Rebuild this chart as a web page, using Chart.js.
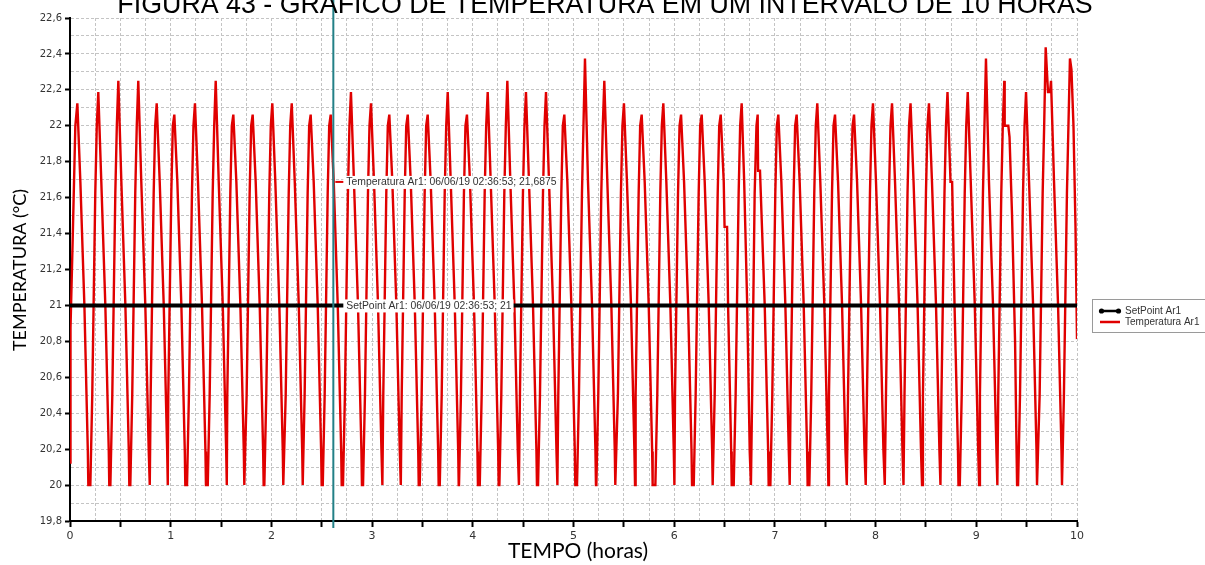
<!DOCTYPE html>
<html>
<head>
<meta charset="utf-8">
<script src="https://cdn.jsdelivr.net/npm/chart.js@4.4.1/dist/chart.umd.min.js"></script>
<style>
html,body{margin:0;padding:0;background:#fff;}
canvas{display:block;}
</style>
</head>
<body>
<canvas id="c" width="1205" height="565"></canvas>
<script>
// ---------- DATA ----------
const chartTitle = "FIGURA 43 - GRÁFICO DE TEMPERATURA EM UM INTERVALO DE 10 HORAS";
const xTitle = "TEMPO (horas)";
const yTitle = "TEMPERATURA (°C)";
const seriesNames = ["SetPoint Ar1", "Temperatura Ar1"];

const setpointHours = [0, 10];
const setpointValues = [21, 21];

const cursorHour = 2.615;
const cursorTemp = 21.6875;
const cursorSetpoint = 21;
const cursorLabelTemp = "Temperatura Ar1: 06/06/19 02:36:53; 21,6875";
const cursorLabelSetpoint = "SetPoint Ar1: 06/06/19 02:36:53; 21";

const xTickLabels = ["0","1","2","3","4","5","6","7","8","9","10"];

const tempHours = [
  0, 0.005, 0.027, 0.053,
  0.073, 0.103, 0.143, 0.177, 0.182, 0.202, 0.221, 0.251, 0.266,
  0.281, 0.311, 0.351, 0.385, 0.390, 0.401, 0.420, 0.450, 0.465,
  0.480, 0.510, 0.550, 0.584, 0.589, 0.599, 0.618, 0.648, 0.663,
  0.678, 0.708, 0.748, 0.782, 0.792, 0.801, 0.831, 0.846,
  0.861, 0.891, 0.931, 0.965, 0.971, 0.976, 1.006, 1.021,
  1.036, 1.066, 1.106, 1.140, 1.145, 1.162, 1.181, 1.211, 1.226,
  1.241, 1.271, 1.311, 1.345, 1.350, 1.368, 1.387, 1.417, 1.432,
  1.447, 1.477, 1.517, 1.551, 1.557, 1.562, 1.592, 1.607,
  1.622, 1.652, 1.692, 1.726, 1.731, 1.735, 1.754, 1.784, 1.799,
  1.814, 1.844, 1.884, 1.918, 1.923, 1.930, 1.949, 1.979, 1.994,
  2.009, 2.039, 2.079, 2.113, 2.118, 2.123, 2.142, 2.172, 2.187,
  2.202, 2.232, 2.272, 2.306, 2.311, 2.330, 2.360, 2.375,
  2.390, 2.420, 2.460, 2.494, 2.499, 2.510, 2.529, 2.559, 2.574,
  2.589, 2.619, 2.659, 2.693, 2.698, 2.711, 2.730, 2.760, 2.775,
  2.790, 2.820, 2.860, 2.894, 2.899, 2.910, 2.929, 2.959, 2.974,
  2.989, 3.019, 3.059, 3.093, 3.102, 3.111, 3.141, 3.156,
  3.171, 3.201, 3.241, 3.275, 3.285, 3.294, 3.324, 3.339,
  3.354, 3.384, 3.424, 3.458, 3.463, 3.473, 3.492, 3.522, 3.537,
  3.552, 3.582, 3.622, 3.656, 3.661, 3.672, 3.691, 3.721, 3.736,
  3.751, 3.781, 3.821, 3.855, 3.860, 3.863, 3.882, 3.912, 3.927,
  3.942, 3.972, 4.012, 4.046, 4.051, 4.069, 4.088, 4.118, 4.133,
  4.148, 4.178, 4.218, 4.252, 4.257, 4.264, 4.283, 4.313, 4.328,
  4.343, 4.373, 4.413, 4.447, 4.458, 4.468, 4.498, 4.513,
  4.528, 4.558, 4.598, 4.632, 4.637, 4.648, 4.667, 4.697, 4.712,
  4.727, 4.757, 4.797, 4.831, 4.840, 4.849, 4.879, 4.894,
  4.909, 4.939, 4.979, 5.013, 5.018, 5.035, 5.054, 5.084, 5.099,
  5.114, 5.144, 5.184, 5.218, 5.223, 5.227, 5.246, 5.276, 5.291,
  5.306, 5.336, 5.376, 5.410, 5.415, 5.422, 5.441, 5.471, 5.486,
  5.501, 5.531, 5.571, 5.605, 5.611, 5.617, 5.647, 5.662,
  5.677, 5.707, 5.747, 5.781, 5.786, 5.813, 5.832, 5.862, 5.877,
  5.892, 5.922, 5.962, 5.996, 6.002, 6.008, 6.038, 6.053,
  6.068, 6.098, 6.138, 6.172, 6.177, 6.194, 6.213, 6.243, 6.258,
  6.273, 6.303, 6.343, 6.377, 6.382, 6.402, 6.432, 6.447,
  6.462, 6.492, 6.500, 6.525, 6.535, 6.566, 6.571, 6.591, 6.610, 6.640, 6.655,
  6.670, 6.695, 6.725, 6.750, 6.762, 6.774, 6.799, 6.817,
  6.829, 6.833, 6.852, 6.899, 6.933, 6.938, 6.955, 6.974, 7.004, 7.019,
  7.034, 7.064, 7.104, 7.138, 7.147, 7.156, 7.186, 7.201,
  7.216, 7.246, 7.286, 7.320, 7.325, 7.342, 7.361, 7.391, 7.406,
  7.421, 7.451, 7.491, 7.525, 7.531, 7.537, 7.567, 7.582,
  7.597, 7.627, 7.667, 7.701, 7.714, 7.726, 7.756, 7.771,
  7.786, 7.816, 7.856, 7.890, 7.902, 7.914, 7.944, 7.959,
  7.974, 8.004, 8.044, 8.078, 8.091, 8.103, 8.133, 8.148,
  8.163, 8.193, 8.233, 8.267, 8.277, 8.287, 8.317, 8.332,
  8.347, 8.377, 8.417, 8.451, 8.461, 8.470, 8.500, 8.515,
  8.530, 8.560, 8.600, 8.634, 8.644, 8.654, 8.684, 8.699,
  8.714, 8.744, 8.760, 8.784, 8.818, 8.823, 8.836, 8.855, 8.885, 8.900,
  8.915, 8.945, 8.985, 9.019, 9.028, 9.036, 9.066, 9.081,
  9.096, 9.126, 9.166, 9.200, 9.209, 9.218, 9.248, 9.263,
  9.278, 9.282, 9.318, 9.330, 9.355, 9.385, 9.400, 9.405, 9.415, 9.434, 9.464, 9.479,
  9.494, 9.524, 9.564, 9.598, 9.603, 9.610, 9.629, 9.659, 9.674,
  9.689, 9.712, 9.732, 9.742, 9.772, 9.812, 9.846, 9.851, 9.870, 9.900, 9.915,
  9.930, 9.945, 9.965, 9.985, 10.0
];

const tempValues = [
  20.125, 20.875, 21.375, 22.0,
  22.125, 21.6875, 21.0, 20.1875, 20.0, 20.0, 20.5, 21.625, 22.0,
  22.1875, 21.6875, 21.0, 20.1875, 20.0, 20.0, 20.5, 21.625, 22.0,
  22.25, 21.6875, 21.0, 20.1875, 20.0, 20.0, 20.5, 21.625, 22.0,
  22.25, 21.6875, 21.0, 20.1875, 20.0, 20.5, 21.625, 22.0,
  22.125, 21.6875, 21.0, 20.1875, 20.0, 20.5, 21.625, 22.0,
  22.0625, 21.6875, 21.0, 20.1875, 20.0, 20.0, 20.5, 21.625, 22.0,
  22.125, 21.6875, 21.0, 20.1875, 20.0, 20.0, 20.5, 21.625, 22.0,
  22.25, 21.6875, 21.0, 20.1875, 20.0, 20.5, 21.625, 22.0,
  22.0625, 21.6875, 21.0, 20.1875, 20.0, 20.0, 20.5, 21.625, 22.0,
  22.0625, 21.6875, 21.0, 20.1875, 20.0, 20.0, 20.5, 21.625, 22.0,
  22.125, 21.6875, 21.0, 20.1875, 20.0, 20.0, 20.5, 21.625, 22.0,
  22.125, 21.6875, 21.0, 20.1875, 20.0, 20.5, 21.625, 22.0,
  22.0625, 21.6875, 21.0, 20.1875, 20.0, 20.0, 20.5, 21.625, 22.0,
  22.0625, 21.6875, 21.0, 20.1875, 20.0, 20.0, 20.5, 21.625, 22.0,
  22.1875, 21.6875, 21.0, 20.1875, 20.0, 20.0, 20.5, 21.625, 22.0,
  22.125, 21.6875, 21.0, 20.1875, 20.0, 20.5, 21.625, 22.0,
  22.0625, 21.6875, 21.0, 20.1875, 20.0, 20.5, 21.625, 22.0,
  22.0625, 21.6875, 21.0, 20.1875, 20.0, 20.0, 20.5, 21.625, 22.0,
  22.0625, 21.6875, 21.0, 20.1875, 20.0, 20.0, 20.5, 21.625, 22.0,
  22.1875, 21.6875, 21.0, 20.1875, 20.0, 20.0, 20.5, 21.625, 22.0,
  22.0625, 21.6875, 21.0, 20.1875, 20.0, 20.0, 20.5, 21.625, 22.0,
  22.1875, 21.6875, 21.0, 20.1875, 20.0, 20.0, 20.5, 21.625, 22.0,
  22.25, 21.6875, 21.0, 20.1875, 20.0, 20.5, 21.625, 22.0,
  22.1875, 21.6875, 21.0, 20.1875, 20.0, 20.0, 20.5, 21.625, 22.0,
  22.1875, 21.6875, 21.0, 20.1875, 20.0, 20.5, 21.625, 22.0,
  22.0625, 21.6875, 21.0, 20.1875, 20.0, 20.0, 20.5, 21.625, 22.0,
  22.375, 21.6875, 21.0, 20.1875, 20.0, 20.0, 20.5, 21.625, 22.0,
  22.25, 21.6875, 21.0, 20.1875, 20.0, 20.0, 20.5, 21.625, 22.0,
  22.125, 21.6875, 21.0, 20.1875, 20.0, 20.5, 21.625, 22.0,
  22.0625, 21.6875, 21.0, 20.1875, 20.0, 20.0, 20.5, 21.625, 22.0,
  22.125, 21.6875, 21.0, 20.1875, 20.0, 20.5, 21.625, 22.0,
  22.0625, 21.6875, 21.0, 20.1875, 20.0, 20.0, 20.5, 21.625, 22.0,
  22.0625, 21.6875, 21.0, 20.1875, 20.0, 20.5, 21.625, 22.0,
  22.0625, 21.6875, 21.4375, 21.4375, 21.0, 20.1875, 20.0, 20.0, 20.5, 21.625, 22.0,
  22.125, 21.6875, 21.0, 20.1875, 20.0, 20.5, 21.625, 22.0,
  22.0625, 21.75, 21.75, 21.0, 20.1875, 20.0, 20.0, 20.5, 21.625, 22.0,
  22.0625, 21.6875, 21.0, 20.1875, 20.0, 20.5, 21.625, 22.0,
  22.0625, 21.6875, 21.0, 20.1875, 20.0, 20.0, 20.5, 21.625, 22.0,
  22.125, 21.6875, 21.0, 20.1875, 20.0, 20.5, 21.625, 22.0,
  22.0625, 21.6875, 21.0, 20.1875, 20.0, 20.5, 21.625, 22.0,
  22.0625, 21.6875, 21.0, 20.1875, 20.0, 20.5, 21.625, 22.0,
  22.125, 21.6875, 21.0, 20.1875, 20.0, 20.5, 21.625, 22.0,
  22.125, 21.6875, 21.0, 20.1875, 20.0, 20.5, 21.625, 22.0,
  22.125, 21.6875, 21.0, 20.1875, 20.0, 20.5, 21.625, 22.0,
  22.125, 21.6875, 21.0, 20.1875, 20.0, 20.5, 21.625, 22.0,
  22.1875, 21.6875, 21.6875, 21.0, 20.1875, 20.0, 20.0, 20.5, 21.625, 22.0,
  22.1875, 21.6875, 21.0, 20.1875, 20.0, 20.5, 21.625, 22.0,
  22.375, 21.6875, 21.0, 20.1875, 20.0, 20.5, 21.625, 22.0,
  22.25, 22.0, 22.0, 21.9375, 21.5, 20.8, 20.1875, 20.0, 20.0, 20.5, 21.625, 22.0,
  22.1875, 21.6875, 21.0, 20.1875, 20.0, 20.0, 20.5, 21.625, 22.0,
  22.4375, 22.1875, 22.1875, 22.25, 21.6875, 21.0, 20.1875, 20.0, 20.5, 21.625, 22.0,
  22.375, 22.3125, 22.0, 21.4375, 20.8125
];

if (tempHours.length !== tempValues.length) {
  throw new Error("length mismatch: hours " + tempHours.length + " values " + tempValues.length);
}

// ---------- CHART ----------
const fmtY = v => (Math.round(v * 10) / 10).toString().replace('.', ',');
const isMulti = (v, step, base) => Math.abs((v - base) / step - Math.round((v - base) / step)) < 1e-6;

const overlay = {
  id: 'overlay',
  beforeDraw(chart) {
    const ctx = chart.ctx;
    ctx.save();
    ctx.fillStyle = '#fff';
    ctx.fillRect(0, 0, chart.width, chart.height);
    ctx.restore();
  },
  afterDraw(chart) {
    const ctx = chart.ctx;
    const xs = chart.scales.x, ys = chart.scales.y;
    const area = chart.chartArea;
    ctx.save();

    // cursor vertical line
    const cx = xs.getPixelForValue(cursorHour);
    ctx.strokeStyle = 'rgb(35,128,135)';
    ctx.lineWidth = 2;
    ctx.beginPath();
    ctx.moveTo(cx, 0);
    ctx.lineTo(cx, area.bottom + 7);
    ctx.stroke();

    // cursor labels
    ctx.font = '10.4px "Liberation Sans", Arial, sans-serif';
    ctx.textBaseline = 'middle';
    ctx.textAlign = 'left';
    const yT = ys.getPixelForValue(cursorTemp);
    const yS = ys.getPixelForValue(cursorSetpoint);
    let w = ctx.measureText(cursorLabelTemp).width;
    ctx.fillStyle = '#fff';
    ctx.fillRect(cx + 10, yT - 6, w + 5, 13);
    ctx.strokeStyle = '#e00000';
    ctx.lineWidth = 2;
    ctx.beginPath();
    ctx.moveTo(cx + 2, yT);
    ctx.lineTo(cx + 10, yT);
    ctx.stroke();
    ctx.fillStyle = '#333';
    ctx.fillText(cursorLabelTemp, cx + 13, yT + 0.5);
    w = ctx.measureText(cursorLabelSetpoint).width;
    ctx.fillStyle = '#fff';
    ctx.fillRect(cx + 10, yS - 6, w + 5, 13);
    ctx.fillStyle = '#333';
    ctx.fillText(cursorLabelSetpoint, cx + 13, yS + 0.5);

    // legend
    ctx.strokeStyle = '#9a9a9a';
    ctx.lineWidth = 1;
    ctx.strokeRect(1092.5, 299.5, 125, 33);
    ctx.strokeStyle = '#000';
    ctx.lineWidth = 2.5;
    ctx.beginPath(); ctx.moveTo(1100, 311); ctx.lineTo(1120, 311); ctx.stroke();
    ctx.fillStyle = '#000';
    ctx.beginPath(); ctx.arc(1101.5, 311, 2.6, 0, Math.PI * 2); ctx.fill();
    ctx.beginPath(); ctx.arc(1118.5, 311, 2.6, 0, Math.PI * 2); ctx.fill();
    ctx.strokeStyle = '#e00000';
    ctx.beginPath(); ctx.moveTo(1100, 322); ctx.lineTo(1120, 322); ctx.stroke();
    ctx.fillStyle = '#333';
    ctx.font = '10px "Liberation Sans", Arial, sans-serif';
    ctx.fillText(seriesNames[0], 1125, 311.5);
    ctx.fillText(seriesNames[1], 1125, 322.5);

    // chart title (cut at top like the reference)
    ctx.fillStyle = '#000';
    ctx.textAlign = 'center';
    ctx.textBaseline = 'alphabetic';
    ctx.font = '26.8px "Liberation Sans", Arial, sans-serif';
    ctx.fillText(chartTitle, 605, 13);

    // axis titles
    ctx.font = '21px Lato, "Open Sans", sans-serif';
    ctx.textBaseline = 'middle';
    ctx.fillText(xTitle, 578, 551);
    ctx.save();
    ctx.translate(20, 270);
    ctx.rotate(-Math.PI / 2);
    ctx.font = '18px Lato, "Open Sans", sans-serif';
    ctx.fillText(yTitle, 0, 0);
    ctx.restore();

    ctx.restore();
  }
};

new Chart(document.getElementById('c'), {
  type: 'line',
  data: {
    datasets: [
      {
        label: seriesNames[0],
        data: setpointHours.map((h, i) => ({ x: h, y: setpointValues[i] })),
        borderColor: '#000',
        backgroundColor: '#000',
        borderWidth: 4,
        pointRadius: 0,
        tension: 0
      },
      {
        label: seriesNames[1],
        data: tempHours.map((h, i) => ({ x: h, y: tempValues[i] })),
        borderColor: '#e00000',
        backgroundColor: '#e00000',
        borderWidth: 2.4,
        pointRadius: 0,
        tension: 0
      }
    ]
  },
  options: {
    responsive: false,
    animation: false,
    events: [],
    layout: { padding: { top: 18, right: 128, left: 0, bottom: 0 } },
    plugins: { legend: { display: false }, tooltip: { enabled: false }, title: { display: false } },
    scales: {
      x: {
        type: 'linear',
        min: 0, max: 10,
        afterFit: s => { s.height = 44; },
        ticks: {
          stepSize: 0.25, autoSkip: false, maxRotation: 0, minRotation: 0, padding: 3,
          color: '#333',
          font: { family: '"DejaVu Sans", Verdana, sans-serif', size: 11 },
          callback: v => isMulti(v, 1, 0) ? xTickLabels[Math.round(v)] : ''
        },
        grid: {
          color: '#c4c4c4', lineWidth: 1, drawTicks: true, tickLength: 6,
          tickWidth: 2,
          tickColor: ctx => (ctx.tick && isMulti(ctx.tick.value, 0.5, 0)) ? '#000' : 'rgba(0,0,0,0)'
        },
        border: { display: true, color: '#000', width: 2, dash: [3, 2] }
      },
      y: {
        min: 19.8, max: 22.6,
        afterFit: s => { s.width = 70; },
        ticks: {
          stepSize: 0.1, autoSkip: false, padding: 3,
          color: '#333',
          font: { family: '"DejaVu Sans", Verdana, sans-serif', size: 10 },
          callback: v => isMulti(v, 0.2, 19.8) ? fmtY(v) : ''
        },
        grid: {
          color: '#c4c4c4', lineWidth: 1, drawTicks: true, tickLength: 5,
          tickWidth: 2,
          tickColor: ctx => (ctx.tick && isMulti(ctx.tick.value, 0.2, 19.8)) ? '#000' : 'rgba(0,0,0,0)'
        },
        border: { display: true, color: '#000', width: 2, dash: [3, 2] }
      }
    }
  },
  plugins: [overlay]
});
</script>
</body>
</html>
